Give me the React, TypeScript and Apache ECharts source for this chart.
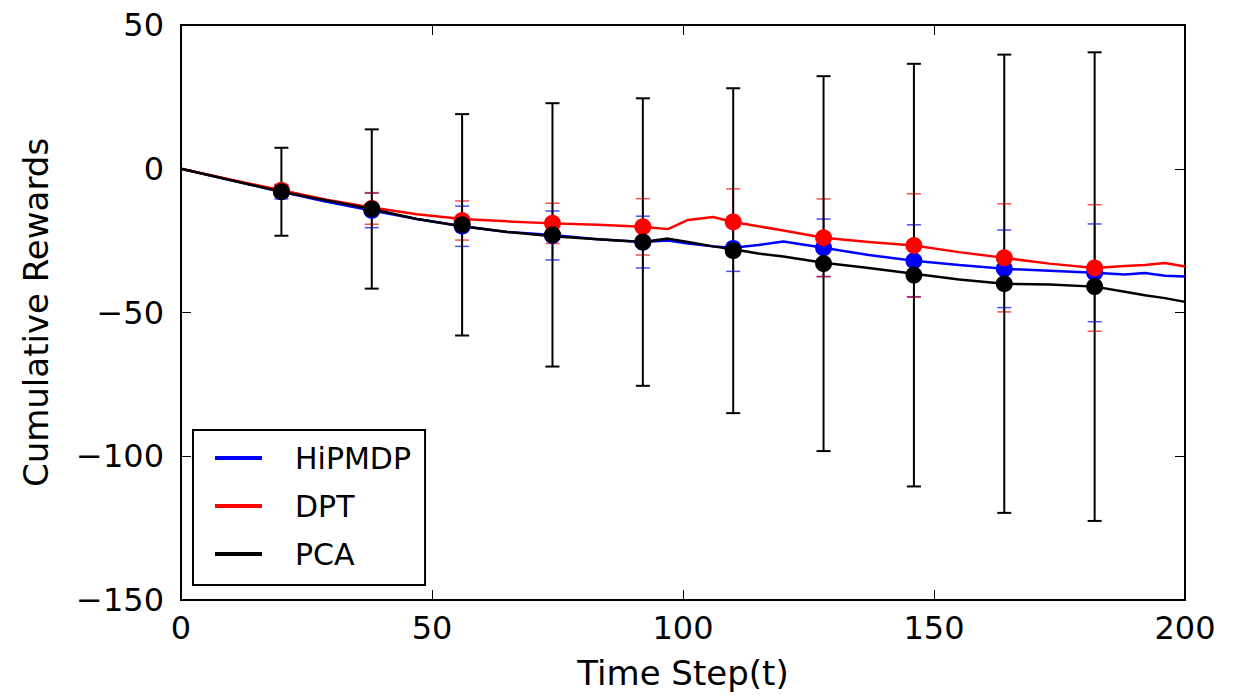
import React, { useEffect, useRef } from "react";
import * as echarts from "echarts";

// Line data (time step, value)
const lineSteps = [0, 10, 20, 29, 38, 47, 56, 65, 74, 83, 92, 97, 101, 106, 110, 115, 120, 128, 137, 146, 155, 164, 173, 182, 188, 192, 196, 200];
const hipLine = [0, -4, -8, -11.5, -14.5, -17.5, -20, -22, -23, -24.5, -25.5, -25, -26, -27, -27.5, -26.5, -25.3, -27.5, -30, -32, -33.5, -34.8, -35.5, -36.2, -36.8, -36.3, -37.2, -37.5];
const dptLine = [0, -3.8, -7.5, -10.8, -13.5, -15.8, -17.5, -18.3, -19, -19.5, -20.2, -21, -17.8, -16.8, -18.5, -20, -21.5, -24, -25.5, -26.7, -29, -31, -33, -34.5, -33.8, -33.5, -32.8, -34];
const pcaLine = [0, -4, -8, -11, -14, -17.5, -20, -22, -23.5, -24.5, -25.5, -24.3, -25.5, -27, -28, -29.5, -30.5, -32.7, -34.5, -36.5, -38.5, -40, -40.3, -41, -42.8, -44, -45, -46.3];

// Error-bar points
const barSteps = [20, 38, 56, 74, 92, 110, 128, 146, 164, 182];
const hipMean = [-8, -14.5, -20, -23.2, -25.5, -27.7, -27.5, -32, -34.8, -36.2];
const hipErr = [2.5, 6, 7, 8.5, 9, 8, 10, 12.5, 13.5, 17];
const dptMean = [-7.5, -13.8, -18, -19, -20.2, -18.5, -24, -26.7, -31, -34.5];
const dptErr = [2, 5.5, 6.8, 7, 9.8, 11.5, 13.5, 18, 18.8, 22];
const pcaMean = [-8, -14, -19.5, -23, -25.5, -28.5, -33, -37, -40, -41];
const pcaErr = [15.3, 27.7, 38.5, 45.8, 50, 56.5, 65.2, 73.5, 79.7, 81.5];

const xTicks = [0, 50, 100, 150, 200];
const yTicks = [-150, -100, -50, 0, 50];

const FONT = "DejaVu Sans";
const BLUE = "#0000ff";
const RED = "#ff0000";
const BLACK = "#000000";

function errorSeries(name: string, color: string, means: number[], errs: number[], lw: number, capHalf: number, opacity: number) {
  return {
    name,
    type: "custom",
    z: 3,
    data: barSteps.map((x, i) => [x, means[i] - errs[i], means[i] + errs[i]]),
    encode: { x: 0, y: [1, 2] },
    renderItem: (params: any, api: any) => {
      const x = api.value(0);
      const lo = api.coord([x, api.value(1)]);
      const hi = api.coord([x, api.value(2)]);
      const style = { stroke: color, lineWidth: lw, opacity };
      return {
        type: "group",
        children: [
          { type: "line", shape: { x1: hi[0], y1: hi[1], x2: lo[0], y2: lo[1] }, style },
          { type: "line", shape: { x1: hi[0] - capHalf, y1: hi[1], x2: hi[0] + capHalf, y2: hi[1] }, style },
          { type: "line", shape: { x1: lo[0] - capHalf, y1: lo[1], x2: lo[0] + capHalf, y2: lo[1] }, style },
        ],
      };
    },
  };
}

function lineSeries(name: string, color: string, values: number[]) {
  return {
    name,
    type: "line",
    z: 2,
    color,
    data: lineSteps.map((x, i) => [x, values[i]]),
    showSymbol: false,
    lineStyle: { color, width: 2.5 },
  };
}

function dotSeries(name: string, color: string, means: number[]) {
  return {
    name,
    type: "scatter",
    z: 4,
    symbol: "circle",
    symbolSize: 17,
    itemStyle: { color, opacity: 1 },
    data: barSteps.map((x, i) => [x, means[i]]),
  };
}

const minusFmt = (v: number) => String(v).replace("-", "\u2212");

export default function App() {
  const ref = useRef<HTMLDivElement>(null);
  useEffect(() => {
    document.body.style.margin = "0";
    const chart = echarts.init(ref.current!, undefined, { renderer: "svg" });
    const axisCommon = {
      type: "value",
      splitLine: { show: false },
      axisLine: { show: true, onZero: false, lineStyle: { color: BLACK, width: 2 } },
      axisTick: { show: true, inside: true, length: 10, lineStyle: { color: BLACK, width: 1 } },
    };
    chart.setOption({
      animation: false,
      backgroundColor: "#ffffff",
      grid: { left: 181, right: 53, top: 25, bottom: 98, show: true, borderColor: BLACK, borderWidth: 2 },
      xAxis: [
        {
          ...axisCommon,
          min: xTicks[0],
          max: xTicks[xTicks.length - 1],
          interval: 50,
          position: "bottom",
          name: "Time Step(t)",
          nameLocation: "middle",
          nameGap: 56,
          nameTextStyle: { fontFamily: FONT, fontSize: 34, color: BLACK },
          axisLabel: { fontFamily: FONT, fontSize: 32, color: BLACK, margin: 12, formatter: minusFmt },
        },
        {
          ...axisCommon,
          min: xTicks[0],
          max: xTicks[xTicks.length - 1],
          interval: 50,
          position: "top",
          axisLabel: { show: false },
        },
      ],
      yAxis: [
        {
          ...axisCommon,
          min: yTicks[0],
          max: yTicks[yTicks.length - 1],
          interval: 50,
          position: "left",
          name: "Cumulative Rewards",
          nameLocation: "middle",
          nameGap: 128,
          nameTextStyle: { fontFamily: FONT, fontSize: 34, color: BLACK },
          axisLabel: { fontFamily: FONT, fontSize: 32, color: BLACK, margin: 17, formatter: minusFmt },
        },
        {
          ...axisCommon,
          min: yTicks[0],
          max: yTicks[yTicks.length - 1],
          interval: 50,
          position: "right",
          axisLabel: { show: false },
        },
      ],
      legend: {
        show: true,
        data: [
          { name: "HiPMDP", icon: "rect" },
          { name: "DPT", icon: "rect" },
          { name: "PCA", icon: "rect" },
        ],
        orient: "vertical",
        left: 193,
        top: 430,
        backgroundColor: "#ffffff",
        borderColor: BLACK,
        borderWidth: 2,
        borderRadius: 0,
        padding: [13, 14, 16, 22],
        itemWidth: 47,
        itemHeight: 4,
        itemGap: 18,
        selectedMode: false,
        textStyle: { fontFamily: FONT, fontSize: 30, color: BLACK, lineHeight: 30, padding: [0, 0, 0, 28] },
      },
      series: [
        lineSeries("HiPMDP", BLUE, hipLine),
        lineSeries("DPT", RED, dptLine),
        lineSeries("PCA", BLACK, pcaLine),
        errorSeries("HiPMDP err", BLUE, hipMean, hipErr, 1.5, 7, 0.7),
        errorSeries("DPT err", RED, dptMean, dptErr, 1.5, 7, 0.7),
        errorSeries("PCA err", BLACK, pcaMean, pcaErr, 2, 7, 1),
        dotSeries("HiPMDP mean", BLUE, hipMean),
        dotSeries("DPT mean", RED, dptMean),
        dotSeries("PCA mean", BLACK, pcaMean),
      ],
    });
    return () => chart.dispose();
  }, []);
  return <div ref={ref} style={{ width: 1238, height: 698 }} />;
}
